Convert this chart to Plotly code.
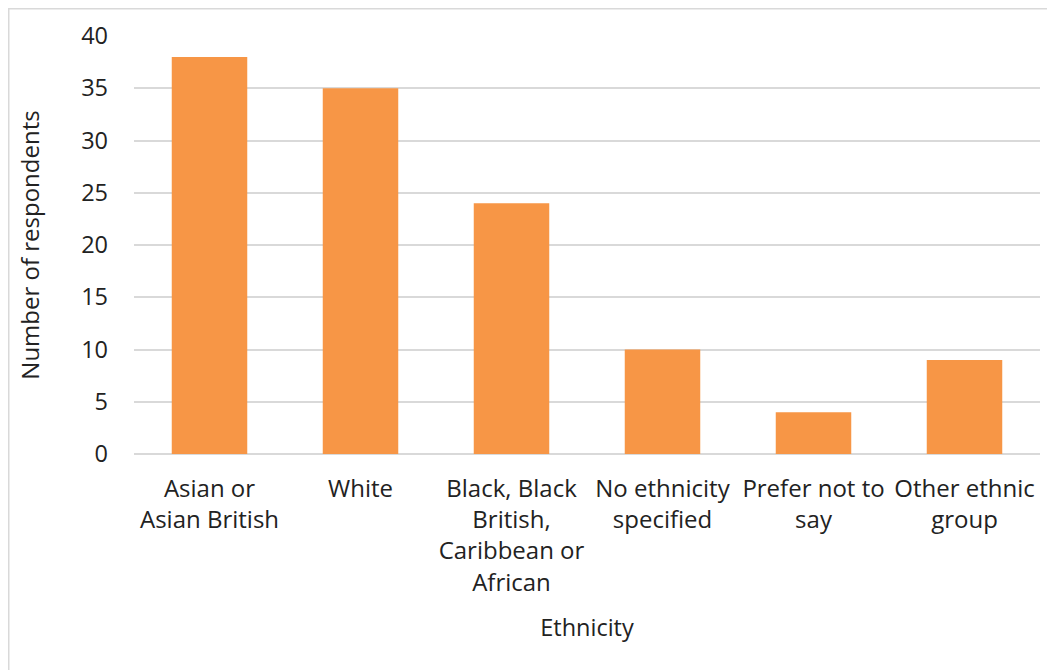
import plotly.graph_objects as go

categories = [
    "Asian or<br>Asian British",
    "White",
    "Black, Black<br>British,<br>Caribbean or<br>African",
    "No ethnicity<br>specified",
    "Prefer not to<br>say",
    "Other ethnic<br>group",
]
values = [38, 35, 24, 10, 4, 9]
y_ticks = [0, 5, 10, 15, 20, 25, 30, 35, 40]

FONT = "Open Sans"
TXT = "#222222"
GRID = "#d9d9d9"

# page body has an ~8px offset; plot area targets screen x 134-1040, y 36-454
L, T = 126, 28
PW, PH = 906, 418
W, H = 1055, 670

fig = go.Figure(
    go.Bar(x=categories, y=values, marker=dict(color="#F79646", line=dict(width=0)))
)

fig.update_layout(
    width=W,
    height=H,
    margin=dict(l=L, r=W - L - PW, t=T, b=H - T - PH),
    paper_bgcolor="white",
    plot_bgcolor="white",
    bargap=0.5,
    showlegend=False,
    font=dict(family=FONT, size=24, color=TXT),
)

fig.update_xaxes(
    showline=False,
    showgrid=False,
    ticks="",
    tickfont=dict(family=FONT, size=24, color=TXT),
    ticklabelstandoff=18,
    title=dict(text="Ethnicity", font=dict(family=FONT, size=23.5, color=TXT), standoff=22),
    automargin=False,
)

fig.update_yaxes(
    range=[0, 40],
    tickvals=y_ticks,
    showgrid=True,
    gridcolor=GRID,
    gridwidth=1.5,
    zeroline=True,
    zerolinecolor=GRID,
    zerolinewidth=1.5,
    showline=False,
    ticks="",
    tickfont=dict(family=FONT, size=23.5, color=TXT),
    ticklabelstandoff=25,
    title=dict(text="Number of respondents", font=dict(family=FONT, size=24, color=TXT), standoff=34),
    automargin=False,
)

# Chart-area border (light gray, partially cropped at right/bottom)
fig.add_shape(
    type="rect",
    xref="paper", yref="paper",
    x0=(0.5 - L) / PW, x1=1.3,
    y0=-1.0, y1=(T + PH - 0.5) / PH,
    line=dict(color="#d9d9d9", width=2),
    fillcolor="rgba(0,0,0,0)",
    layer="below",
)

fig.write_html("out.html")
